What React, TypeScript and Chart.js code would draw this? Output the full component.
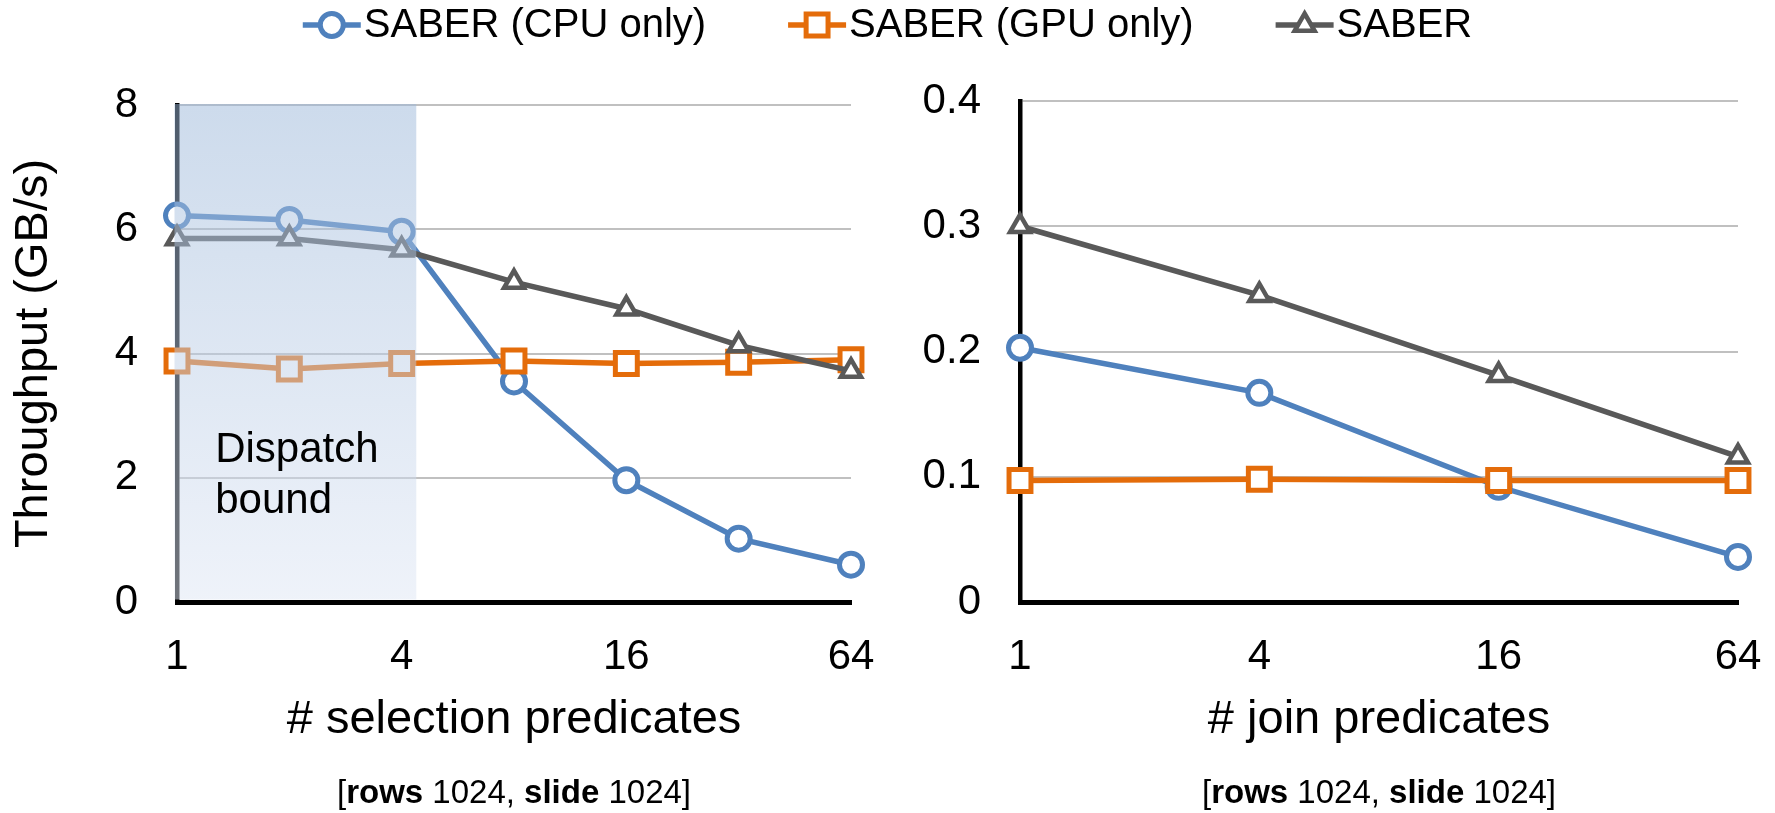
import React, { useEffect, useRef } from 'react';
import { Chart, registerables } from 'chart.js';
import { drawPoint } from 'chart.js/helpers';

Chart.register(...registerables);

// ---------- data ----------
const selLabels = ['1', '2', '4', '8', '16', '32', '64'];
const selShownTicks = ['1', '4', '16', '64'];
const selCpu = [6.22, 6.15, 5.96, 3.55, 1.96, 1.02, 0.6];
const selGpu = [3.88, 3.75, 3.84, 3.88, 3.84, 3.86, 3.9];
const selSaber = [5.85, 5.85, 5.67, 5.15, 4.72, 4.13, 3.72];

const joinLabels = ['1', '4', '16', '64'];
const joinCpu = [0.203, 0.167, 0.092, 0.036];
const joinGpu = [0.097, 0.098, 0.097, 0.097];
const joinSaber = [0.3, 0.245, 0.181, 0.116];

const seriesNames = ['SABER (CPU only)', 'SABER (GPU only)', 'SABER'];
const seriesColors = ['#4f81bd', '#e46c0a', '#595959'];
const seriesMarkers = ['circle', 'rect', 'triangle'];
const markerRadius = [11.5, 15.5, 11.5];

const selRange = [0, 8, 2];
const joinRange = [0, 0.4, 0.1];
const shadeRange = [0, 2.13];
const shadeText = ['Dispatch', 'bound'];
const shadeTextPos = [0.34, 2.25, 1.43];
const xTitles = ['# selection predicates', '# join predicates'];
const yTitle = 'Throughput (GB/s)';
const noteParts = [
  { t: '[', b: false },
  { t: 'rows', b: true },
  { t: ' 1024, ', b: false },
  { t: 'slide', b: true },
  { t: ' 1024]', b: false },
];

const FONT = '"Liberation Sans", Arial, Helvetica, sans-serif';
const W = 1775;
const H = 813;
const LINE_W = 5.5;

function markerBorder(i: number) {
  return i === 2 ? 4.5 : 5;
}

function makeDatasets(values: number[][]) {
  return values.map((v, i) => ({
    label: seriesNames[i],
    data: v,
    borderColor: seriesColors[i],
    backgroundColor: seriesColors[i],
    borderWidth: LINE_W,
    pointStyle: seriesMarkers[i] as any,
    pointRadius: markerRadius[i],
    pointHoverRadius: markerRadius[i],
    pointBorderWidth: markerBorder(i),
    pointBackgroundColor: '#ffffff',
    pointBorderColor: seriesColors[i],
    tension: 0,
    order: 3 - i,
  }));
}

const legendPlugin = {
  id: 'topLegend',
  afterDraw(chart: any) {
    const ctx = chart.ctx;
    ctx.save();
    ctx.font = `40px ${FONT}`;
    const lineW = 58;
    const gapText = 3;
    const gapItem = 82;
    const widths = seriesNames.map((n) => ctx.measureText(n).width);
    const total =
      widths.reduce((a, w) => a + lineW + gapText + w, 0) + gapItem * (seriesNames.length - 1);
    let x = chart.width / 2 - total / 2;
    const y = 25;
    seriesNames.forEach((name, i) => {
      ctx.strokeStyle = seriesColors[i];
      ctx.lineWidth = LINE_W;
      ctx.beginPath();
      ctx.moveTo(x, y);
      ctx.lineTo(x + lineW, y);
      ctx.stroke();
      ctx.fillStyle = '#ffffff';
      ctx.lineWidth = markerBorder(i);
      drawPoint(
        ctx,
        { pointStyle: seriesMarkers[i] as any, radius: markerRadius[i], rotation: 0, borderWidth: markerBorder(i) } as any,
        x + lineW / 2,
        y
      );
      ctx.fillStyle = '#000000';
      ctx.textAlign = 'left';
      ctx.textBaseline = 'middle';
      ctx.fillText(name, x + lineW + gapText, y + 1);
      x += lineW + gapText + widths[i] + gapItem;
    });
    ctx.restore();
  },
};

const notePlugin = {
  id: 'bottomNote',
  afterDraw(chart: any) {
    const ctx = chart.ctx;
    const area = chart.chartArea;
    ctx.save();
    const fonts = noteParts.map((p) => `${p.b ? 'bold ' : ''}33px ${FONT}`);
    const widths = noteParts.map((p, i) => {
      ctx.font = fonts[i];
      return ctx.measureText(p.t).width;
    });
    const total = widths.reduce((a, b) => a + b, 0);
    let x = (area.left + area.right) / 2 - total / 2;
    const y = chart.height - 19;
    ctx.fillStyle = '#000000';
    ctx.textAlign = 'left';
    ctx.textBaseline = 'middle';
    noteParts.forEach((p, i) => {
      ctx.font = fonts[i];
      ctx.fillText(p.t, x, y);
      x += widths[i];
    });
    ctx.restore();
  },
};

const shadePlugin = {
  id: 'dispatchShade',
  afterDatasetsDraw(chart: any) {
    const ctx = chart.ctx;
    const { chartArea, scales } = chart;
    const xs = scales.x;
    const ys = scales.y;
    const x0 = xs.getPixelForValue(shadeRange[0]) - 2.5;
    const x1 = xs.getPixelForValue(shadeRange[1]);
    const y0 = ys.getPixelForValue(selRange[1]) - 1;
    const y1 = chartArea.bottom - 2.5;
    ctx.save();
    const g = ctx.createLinearGradient(0, y0, 0, y1);
    g.addColorStop(0, 'rgba(155,183,217,0.5)');
    g.addColorStop(1, 'rgba(222,230,244,0.5)');
    ctx.fillStyle = g;
    ctx.fillRect(x0, y0, x1 - x0, y1 - y0);
    ctx.fillStyle = '#000000';
    ctx.font = `42px ${FONT}`;
    ctx.textAlign = 'left';
    ctx.textBaseline = 'alphabetic';
    const tx = xs.getPixelForValue(shadeTextPos[0]);
    ctx.fillText(shadeText[0], tx, ys.getPixelForValue(shadeTextPos[1]));
    ctx.fillText(shadeText[1], tx, ys.getPixelForValue(shadeTextPos[2]));
    ctx.restore();
  },
};

function buildOptions(cfg: {
  labels: string[];
  shown: string[];
  range: number[];
  xTitle: string;
  showYTitle: boolean;
  yWidth: number;
  padding: { top: number; right: number; bottom: number; left: number };
  decimals: number;
}) {
  return {
    responsive: false,
    animation: false as const,
    devicePixelRatio: 1,
    layout: { padding: cfg.padding },
    plugins: {
      legend: { display: false },
      tooltip: { enabled: false },
    },
    events: [],
    scales: {
      x: {
        type: 'category' as const,
        labels: cfg.labels,
        offset: false,
        grid: { display: false, drawTicks: false },
        border: { display: true, color: '#000000', width: 5 },
        ticks: {
          autoSkip: false,
          maxRotation: 0,
          minRotation: 0,
          padding: 30,
          color: '#000000',
          font: { family: FONT, size: 42 },
          callback: function (this: any, value: any) {
            const lab = this.getLabelForValue(value);
            return cfg.shown.includes(lab) ? lab : '';
          },
        },
        title: {
          display: true,
          text: cfg.xTitle,
          color: '#000000',
          font: { family: FONT, size: 47 },
          padding: { top: 0, bottom: 65 },
        },
        afterFit: (s: any) => {
          s.height = H - 602;
          s.paddingLeft = 0;
          s.paddingRight = 0;
        },
      },
      y: {
        type: 'linear' as const,
        min: cfg.range[0],
        max: cfg.range[1],
        grid: { color: '#c0c0c0', lineWidth: 2, drawTicks: false },
        border: { display: true, color: '#000000', width: 4.5 },
        ticks: {
          stepSize: cfg.range[2],
          padding: 39,
          color: '#000000',
          font: { family: FONT, size: 42 },
          callback: (v: any) => Number(Number(v).toFixed(cfg.decimals)).toString(),
        },
        title: {
          display: cfg.showYTitle,
          text: yTitle,
          color: '#000000',
          font: { family: FONT, size: 47 },
          padding: { top: 6, bottom: 0 },
        },
        afterFit: (s: any) => {
          s.width = cfg.yWidth;
          s.paddingTop = 0;
          s.paddingBottom = 0;
        },
      },
    },
  };
}

function LeftChart() {
  const ref = useRef<HTMLCanvasElement | null>(null);
  useEffect(() => {
    if (!ref.current) return;
    const chart = new Chart(ref.current, {
      type: 'line',
      data: { labels: selLabels, datasets: makeDatasets([selCpu, selGpu, selSaber]) as any },
      options: buildOptions({
        labels: selLabels,
        shown: selShownTicks,
        range: selRange,
        xTitle: xTitles[0],
        showYTitle: true,
        yWidth: 177,
        padding: { top: 105, right: 924, bottom: 0, left: 0 },
        decimals: 0,
      }) as any,
      plugins: [shadePlugin, legendPlugin, notePlugin],
    });
    return () => chart.destroy();
  }, []);
  return (
    <canvas
      ref={ref}
      width={W}
      height={H}
      style={{ position: 'absolute', left: 0, top: 0, width: W, height: H }}
    />
  );
}

function RightChart() {
  const ref = useRef<HTMLCanvasElement | null>(null);
  useEffect(() => {
    if (!ref.current) return;
    const chart = new Chart(ref.current, {
      type: 'line',
      data: { labels: joinLabels, datasets: makeDatasets([joinCpu, joinGpu, joinSaber]) as any },
      options: buildOptions({
        labels: joinLabels,
        shown: joinLabels,
        range: joinRange,
        xTitle: xTitles[1],
        showYTitle: false,
        yWidth: 120,
        padding: { top: 101, right: 37, bottom: 0, left: 900 },
        decimals: 1,
      }) as any,
      plugins: [notePlugin],
    });
    return () => chart.destroy();
  }, []);
  return (
    <canvas
      ref={ref}
      width={W}
      height={H}
      style={{ position: 'absolute', left: 0, top: 0, width: W, height: H, pointerEvents: 'none' }}
    />
  );
}

export default function App() {
  return (
    <div
      style={{
        position: 'fixed',
        left: 0,
        top: 0,
        width: W,
        height: H,
        background: '#ffffff',
        overflow: 'hidden',
      }}
    >
      <LeftChart />
      <RightChart />
    </div>
  );
}
